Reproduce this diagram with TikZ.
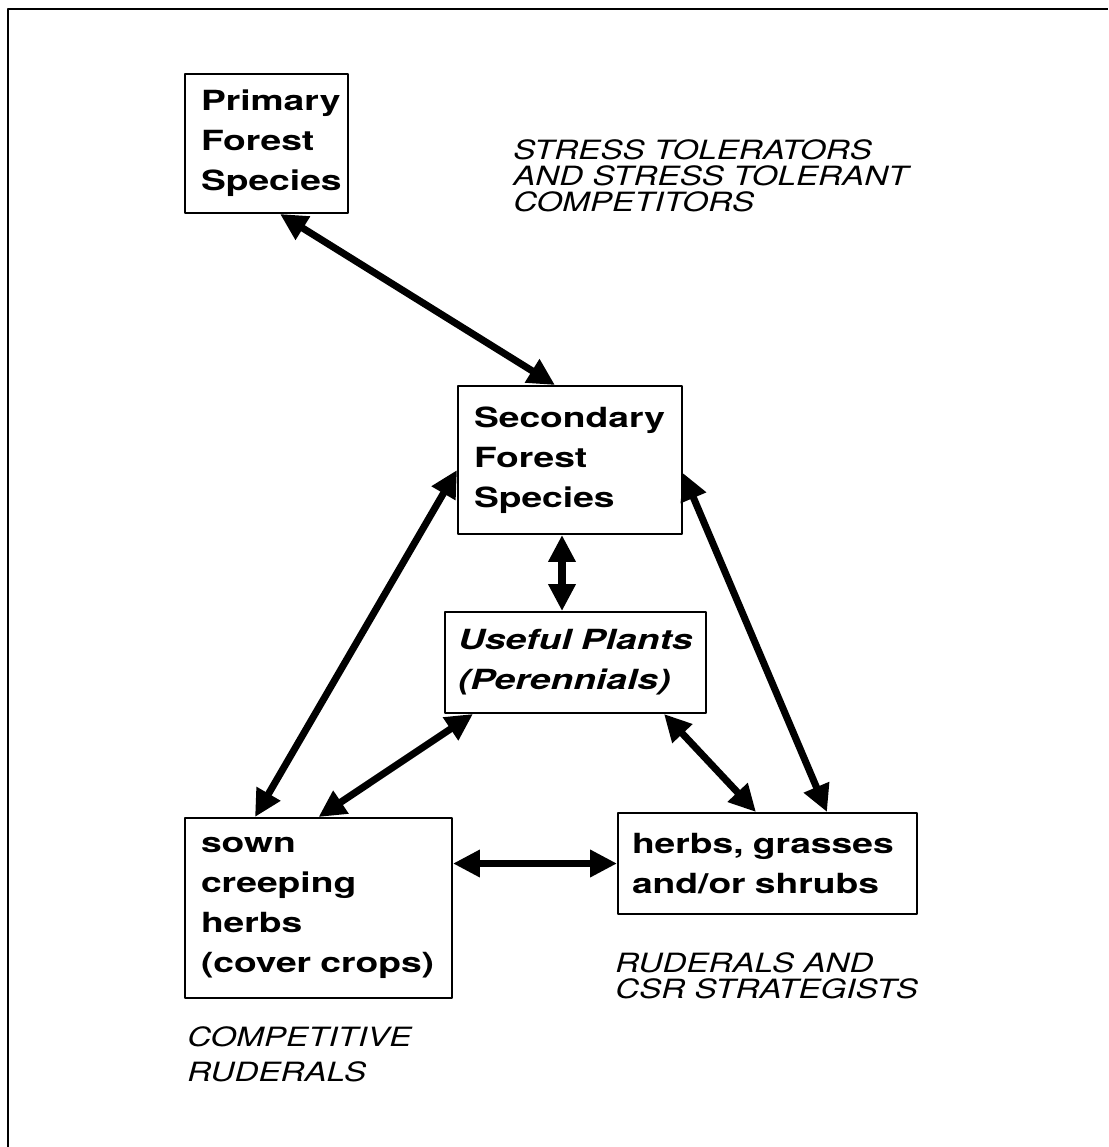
\documentclass[tikz,border=0pt]{standalone}
\usepackage{fontspec}
\usetikzlibrary{arrows.meta}
\newfontfamily\boxfont{TeX Gyre Heros}[FakeStretch=1.34]
\newfontfamily\notefont{TeX Gyre Heros}[FakeStretch=1.25]
\begin{document}
\begin{tikzpicture}[line join=round,>={Triangle[length=5.4mm,width=5.2mm]},
		plantbox/.style={draw,line width=1.1pt,align=left,inner xsep=3.2mm,inner ysep=0pt,
			font=\boxfont\bfseries\fontsize{15.8}{22.8}\selectfont},
		note/.style={anchor=north west,inner sep=0pt,align=left,
			font=\notefont\itshape\fontsize{15.1}{14.8}\selectfont},
		link/.style={<->,line width=4pt}]
	\useasboundingbox (0,0) rectangle (22.16,-22.94);
	% frame of the page
	\draw[line width=1.1pt] (0.16,-22.94)--(0.16,-0.18)--(22.16,-0.18);
	% the five groups
	\node[plantbox,text width=2.62cm,minimum height=2.78cm] (prim) at (5.33,-2.87) {Primary\\Forest\\Species};
	\node[plantbox,text width=3.84cm,minimum height=2.96cm] (sec) at (11.40,-9.20) {Secondary\\Forest\\Species};
	\node[plantbox,text width=4.70cm,minimum height=2.02cm,inner xsep=2.6mm] (useful) at (11.51,-13.25) {\itshape Useful Plants\\\itshape (Perennials)};
	\node[plantbox,text width=4.70cm,minimum height=3.60cm] (sown) at (6.37,-18.16) {sown\\creeping\\herbs\\(cover crops)};
	\node[plantbox,text width=5.42cm,minimum height=2.02cm,inner xsep=2.8mm] (herbs) at (15.35,-17.27) {herbs, grasses\\and/or shrubs};
	% strategies
	\node[note] (stress) at (10.26,-2.78) {STRESS TOLERATORS\\AND STRESS TOLERANT\\COMPETITORS};
	\node[note] (csr) at (12.30,-19.04) {RUDERALS AND\\CSR STRATEGISTS};
	\node[note,font=\notefont\itshape\fontsize{15.1}{19.9}\selectfont] (comp) at (3.74,-20.52) {COMPETITIVE\\RUDERALS};
	% links
	\draw[link] ([xshift=0.27cm]prim.south)--([xshift=-0.30cm]sec.north);
	\draw[link] ([xshift=-0.16cm]sec.south)--([xshift=-0.16cm]sec.south |- useful.north);
	\draw[link] ([yshift=-0.20cm]sec.west)--([xshift=-1.27cm]sown.north);
	\draw[link] ([xshift=-2.05cm]useful.south)--(sown.north);
	\draw[link] ([xshift=1.77cm]useful.south)--([xshift=-0.23cm]herbs.north);
	\draw[link] ([yshift=-0.26cm]sec.east)--([xshift=1.19cm]herbs.north);
	\draw[link] (herbs.west)--(herbs.west -| sown.east);
\end{tikzpicture}
\end{document}
